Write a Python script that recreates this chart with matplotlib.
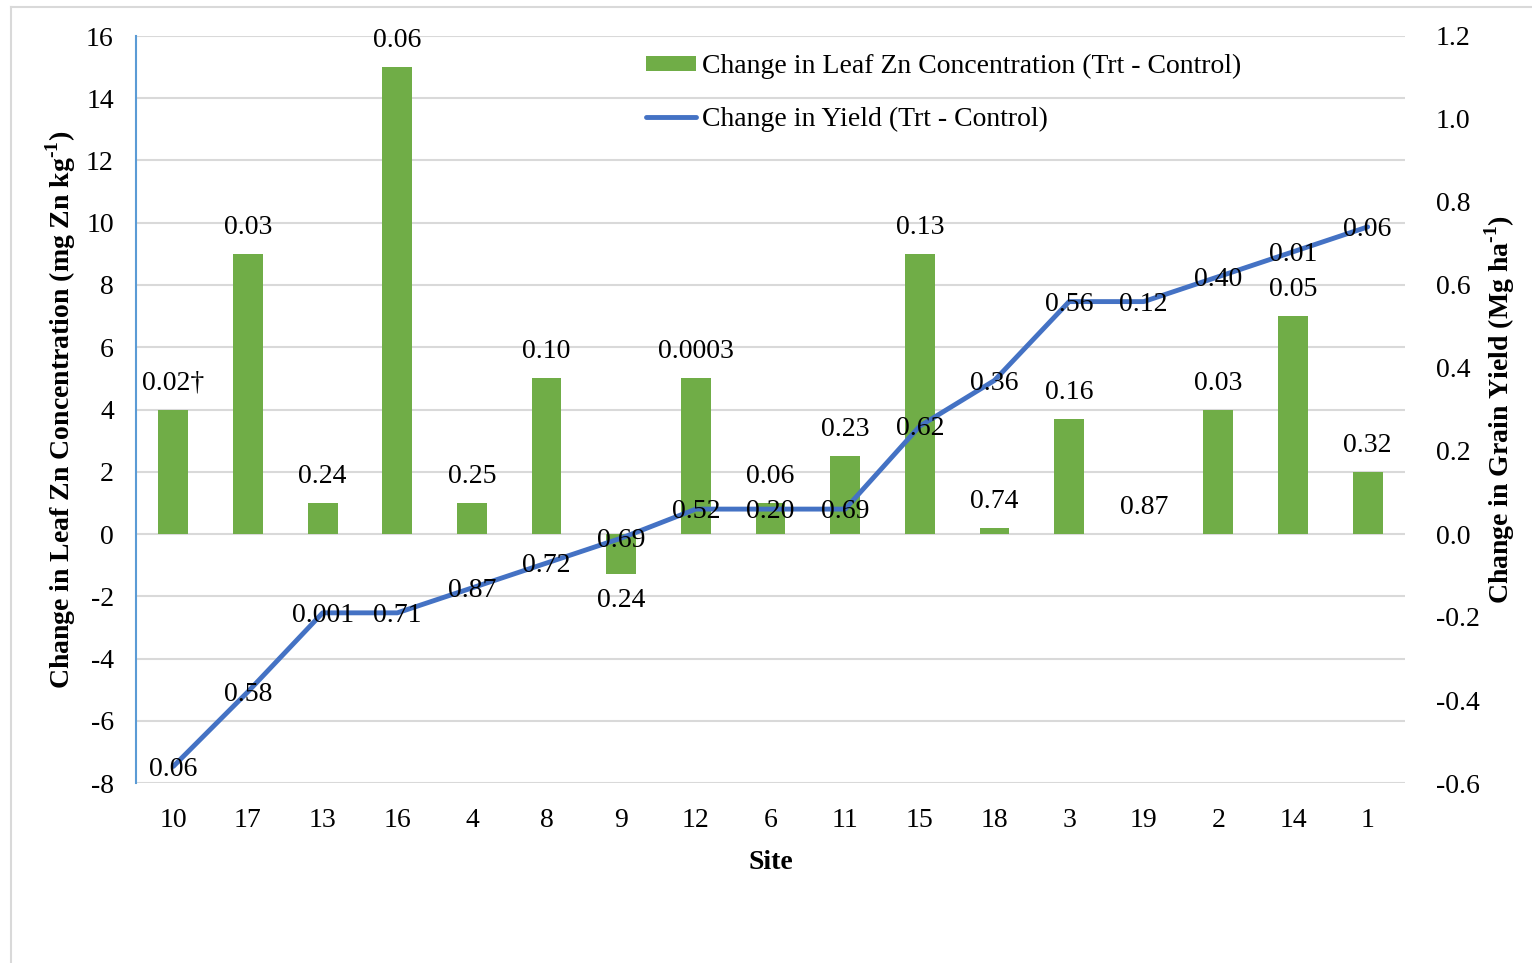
import matplotlib
matplotlib.use("Agg")
import matplotlib.pyplot as plt
from matplotlib.lines import Line2D
from matplotlib.ticker import FormatStrFormatter

plt.rcParams['font.family'] = ['Liberation Serif', 'DejaVu Serif']
plt.rcParams['axes.unicode_minus'] = False
plt.rcParams['mathtext.fontset'] = 'custom'
plt.rcParams['mathtext.rm'] = 'Liberation Serif'
plt.rcParams['mathtext.bf'] = 'Liberation Serif:bold'

# data
sites = ['10', '17', '13', '16', '4', '8', '9', '12', '6', '11', '15', '18', '3', '19', '2', '14', '1']
leaf_zn = [4, 9, 1, 15, 1, 5, -1.3, 5, 1.0, 2.5, 9, 0.2, 3.7, 0, 4, 7, 2]
yield_change = [-0.56, -0.38, -0.19, -0.19, -0.13, -0.07, -0.01, 0.06, 0.06, 0.06,
                0.26, 0.37, 0.56, 0.56, 0.62, 0.68, 0.74]
zn_labels = ['0.02\u2020', '0.03', '0.24', '0.06', '0.25', '0.10', '0.24', '0.0003', '0.06',
             '0.23', '0.13', '0.74', '0.16', '0.87', '0.03', '0.05', '0.32']
yield_labels = ['0.06', '0.58', '0.001', '0.71', '0.87', '0.72', '0.69', '0.52', '0.20',
                '0.69', '0.62', '0.36', '0.56', '0.12', '0.40', '0.01', '0.06']

bar_color = '#70AD47'
line_color = '#4472C4'
grid_color = '#D9D9D9'
fs = 20

fig = plt.figure(figsize=(15.32, 9.63), dpi=100)
ax = fig.add_axes([136 / 1532, 1 - 783 / 963, (1405 - 136) / 1532, (783 - 36) / 963])

# light frame around the chart area
fig.add_artist(Line2D([11 / 1532, 11 / 1532], [0, 1 - 7 / 963], color=grid_color, lw=1.5))
fig.add_artist(Line2D([11 / 1532, 1], [1 - 7 / 963, 1 - 7 / 963], color=grid_color, lw=1.5))

x = list(range(len(sites)))
ax.bar(x, leaf_zn, width=0.4, color=bar_color, zorder=2,
       label='Change in Leaf Zn Concentration (Trt - Control)')
ax.set_ylim(-8, 16)
ax.set_yticks(range(-8, 17, 2))
ax.set_xlim(-0.5, len(sites) - 0.5)
ax.set_xticks(x)
ax.set_xticklabels(sites)
ax.yaxis.grid(True, color=grid_color, lw=1.5, zorder=0)
ax.set_axisbelow(True)
for s in ['top', 'right', 'bottom']:
    ax.spines[s].set_visible(False)
ax.spines['left'].set_color('#5B9BD5')
ax.spines['left'].set_linewidth(1.5)
ax.tick_params(axis='both', length=0, labelsize=fs, pad=16)
ax.tick_params(axis='x', pad=18)
ax.set_xlabel('Site', fontsize=fs, fontweight='bold', labelpad=12)
ax.set_ylabel('Change in Leaf Zn Concentration (mg Zn kg$^{\\mathbf{\u20101}}$)',
              fontsize=fs, fontweight='bold', labelpad=6)

for xi, v, lab in zip(x, leaf_zn, zn_labels):
    off = 19 if v >= 0 else -19
    ax.annotate(lab, (xi, v), xytext=(0, off), textcoords='offset points',
                ha='center', va='center', fontsize=fs, zorder=5)

ax2 = ax.twinx()
ax2.plot(x, yield_change, color=line_color, lw=3.5, solid_capstyle='round',
         label='Change in Yield (Trt - Control)', zorder=3)
ax2.set_ylim(-0.6, 1.2)
ax2.set_yticks([-0.6, -0.4, -0.2, 0.0, 0.2, 0.4, 0.6, 0.8, 1.0, 1.2])
ax2.yaxis.set_major_formatter(FormatStrFormatter('%.1f'))
for s in ['top', 'right', 'bottom', 'left']:
    ax2.spines[s].set_visible(False)
ax2.tick_params(axis='y', length=0, labelsize=fs, pad=22)
ax2.set_ylabel('Change in Grain Yield (Mg ha$^{\\mathbf{\u20101}}$)',
               fontsize=fs, fontweight='bold', labelpad=2)

for xi, v, lab in zip(x, yield_change, yield_labels):
    ax2.annotate(lab, (xi, v), xytext=(0, -2), textcoords='offset points',
                 ha='center', va='center', fontsize=fs, zorder=5)

h1, l1 = ax.get_legend_handles_labels()
h2, l2 = ax2.get_legend_handles_labels()
ax2.legend(h1 + h2, l1 + l2, loc='upper left', bbox_to_anchor=(646 / 1532, 1 - 54 / 963),
           bbox_transform=fig.transFigure, frameon=False, fontsize=fs,
           handlelength=1.8, handleheight=0.45, handletextpad=0.2, labelspacing=1.0,
           borderpad=0, borderaxespad=0)

fig.savefig('out.png', dpi=100)
